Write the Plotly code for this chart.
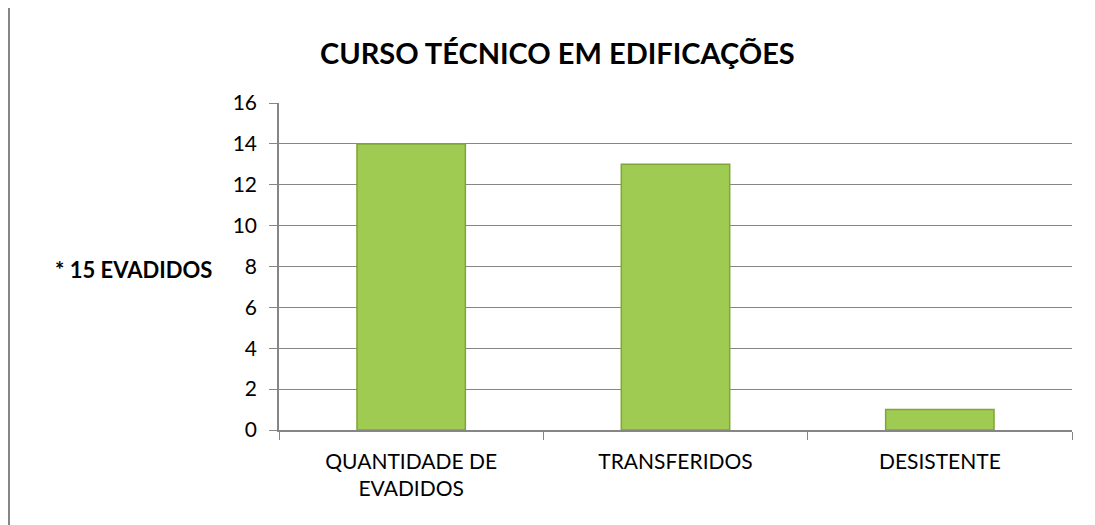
import plotly.graph_objects as go

categories = ["QUANTIDADE DE<br>EVADIDOS", "TRANSFERIDOS", "DESISTENTE"]
values = [14, 13, 1]
y_ticks = [0, 2, 4, 6, 8, 10, 12, 14, 16]
title_text = "CURSO TÉCNICO EM EDIFICAÇÕES"
y_label = "* 15 EVADIDOS"

# page offset from default body margin
O = 8
W, H = 1095 - O, 525 - O
ml, mr, mt, mb = 279 - O, 1095 - 1072, 103 - O, 525 - 430
pw, ph = W - ml - mr, H - mt - mb

def px_x(x):
    return (x - O - ml) / pw

def px_y(y):
    return 1 - (y - O - mt) / ph

fig = go.Figure()
fig.add_trace(go.Bar(
    x=categories, y=values, width=0.41,
    marker=dict(color="#a0cb52", line=dict(color="#7fa537", width=1.5)),
))

fig.update_layout(
    width=W, height=H,
    margin=dict(l=ml, r=mr, t=mt, b=mb),
    paper_bgcolor="white", plot_bgcolor="white",
    font=dict(family="Lato, Carlito, Calibri, sans-serif", size=21, color="black"),
    showlegend=False,
    xaxis=dict(
        showline=True, linecolor="#868686", linewidth=1.5,
        ticks="outside", ticklen=8, tickcolor="#868686", tickson="boundaries",
        showgrid=False, tickfont=dict(size=21), ticklabelstandoff=12,
    ),
    yaxis=dict(
        range=[0, 16], tickvals=y_ticks,
        showline=True, linecolor="#868686", linewidth=1.5,
        ticks="outside", ticklen=8, tickcolor="#868686",
        showgrid=True, gridcolor="#868686", gridwidth=1.2,
        zeroline=False, tickfont=dict(size=21), ticklabelstandoff=8,
    ),
    annotations=[
        dict(text=f"<b>{title_text}</b>", xref="paper", yref="paper",
             x=px_x(557), y=px_y(53), showarrow=False,
             xanchor="center", yanchor="middle", font=dict(size=29)),
        dict(text=f"<b>{y_label}</b>", xref="paper", yref="paper",
             x=px_x(214), y=px_y(269), showarrow=False,
             xanchor="right", yanchor="middle", font=dict(size=22)),
    ],
    shapes=[
        dict(type="rect", xref="paper", yref="paper",
             x0=px_x(9), y0=px_y(560), x1=px_x(1140), y1=px_y(7),
             line=dict(color="#868686", width=2), layer="below"),
    ],
)

fig.write_html("out.html")
